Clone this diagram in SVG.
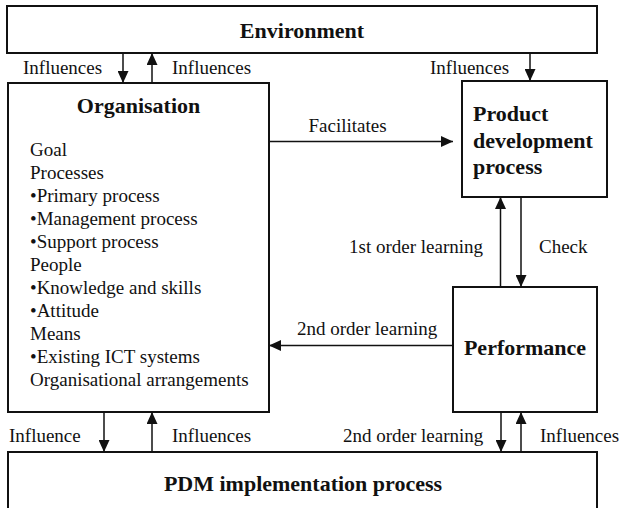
<svg xmlns="http://www.w3.org/2000/svg" width="620" height="508" viewBox="0 0 620 508">
  <style>
    .box { fill: #ffffff; stroke: #111111; stroke-width: 2; }
    .title { font-family: 'Liberation Serif', 'DejaVu Serif', serif; font-size: 22px; font-weight: bold; fill: #111111; }
    .txt { font-family: 'Liberation Serif', 'DejaVu Serif', serif; font-size: 19px; fill: #111111; }
    .edge { fill: none; stroke: #111111; stroke-width: 1.5; marker-end: url(#arrow); }
  </style>
  <defs>
    <marker id="arrow" markerUnits="userSpaceOnUse" viewBox="0 0 12 11" refX="12" refY="5.5" markerWidth="12" markerHeight="11" orient="auto">
      <path d="M0,0 L12,5.5 L0,11 Z" fill="#111111"/>
    </marker>
  </defs>
  <rect width="620" height="508" fill="#ffffff"/>

  <g id="environment">
    <rect class="box" x="7" y="6" width="590" height="47"/>
    <text class="title" x="302" y="38" text-anchor="middle">Environment</text>
  </g>

  <g id="organisation">
    <rect class="box" x="8" y="83" width="261" height="329"/>
    <text class="title" x="138.5" y="113" text-anchor="middle">Organisation</text>
    <text class="txt" x="30" y="156">Goal</text>
    <text class="txt" x="30" y="179">Processes</text>
    <text class="txt" x="30" y="202">•Primary process</text>
    <text class="txt" x="30" y="225">•Management process</text>
    <text class="txt" x="30" y="248">•Support process</text>
    <text class="txt" x="30" y="271">People</text>
    <text class="txt" x="30" y="294">•Knowledge and skills</text>
    <text class="txt" x="30" y="317">•Attitude</text>
    <text class="txt" x="30" y="340">Means</text>
    <text class="txt" x="30" y="363">•Existing ICT systems</text>
    <text class="txt" x="30" y="386">Organisational arrangements</text>
  </g>

  <g id="product-development">
    <rect class="box" x="462" y="81" width="145" height="116"/>
    <text class="title" x="473" y="121">Product</text>
    <text class="title" x="473" y="148">development</text>
    <text class="title" x="473" y="174">process</text>
  </g>

  <g id="performance">
    <rect class="box" x="453" y="287" width="144" height="125"/>
    <text class="title" x="525" y="355" text-anchor="middle">Performance</text>
  </g>

  <g id="pdm-implementation">
    <rect class="box" x="8" y="452" width="589" height="64"/>
    <text class="title" x="303" y="491" text-anchor="middle">PDM implementation process</text>
  </g>

  <g id="connectors">
    <!-- environment <-> organisation -->
    <line class="edge" x1="123" y1="53" x2="123" y2="83"/>
    <line class="edge" x1="152" y1="83" x2="152" y2="53"/>
    <text class="txt" x="23" y="74">Influences</text>
    <text class="txt" x="172" y="74">Influences</text>

    <!-- environment -> product development -->
    <line class="edge" x1="530" y1="53" x2="530" y2="81"/>
    <text class="txt" x="430" y="74">Influences</text>

    <!-- organisation -> product development -->
    <line class="edge" x1="269" y1="141.5" x2="453" y2="141.5"/>
    <text class="txt" x="347.5" y="132" text-anchor="middle">Facilitates</text>

    <!-- product development <-> performance -->
    <line class="edge" x1="500.5" y1="287" x2="500.5" y2="197"/>
    <line class="edge" x1="521" y1="197" x2="521" y2="287"/>
    <text class="txt" x="349" y="253">1st order learning</text>
    <text class="txt" x="539" y="253">Check</text>

    <!-- performance -> organisation -->
    <line class="edge" x1="453" y1="345.5" x2="269" y2="345.5"/>
    <text class="txt" x="297" y="335">2nd order learning</text>

    <!-- organisation <-> PDM implementation -->
    <line class="edge" x1="104" y1="412" x2="104" y2="452"/>
    <line class="edge" x1="152" y1="452" x2="152" y2="412"/>
    <text class="txt" x="9" y="442">Influence</text>
    <text class="txt" x="172" y="442">Influences</text>

    <!-- performance <-> PDM implementation -->
    <line class="edge" x1="501" y1="412" x2="501" y2="452"/>
    <line class="edge" x1="521" y1="452" x2="521" y2="412"/>
    <text class="txt" x="343" y="442">2nd order learning</text>
    <text class="txt" x="540" y="442">Influences</text>
  </g>
</svg>
